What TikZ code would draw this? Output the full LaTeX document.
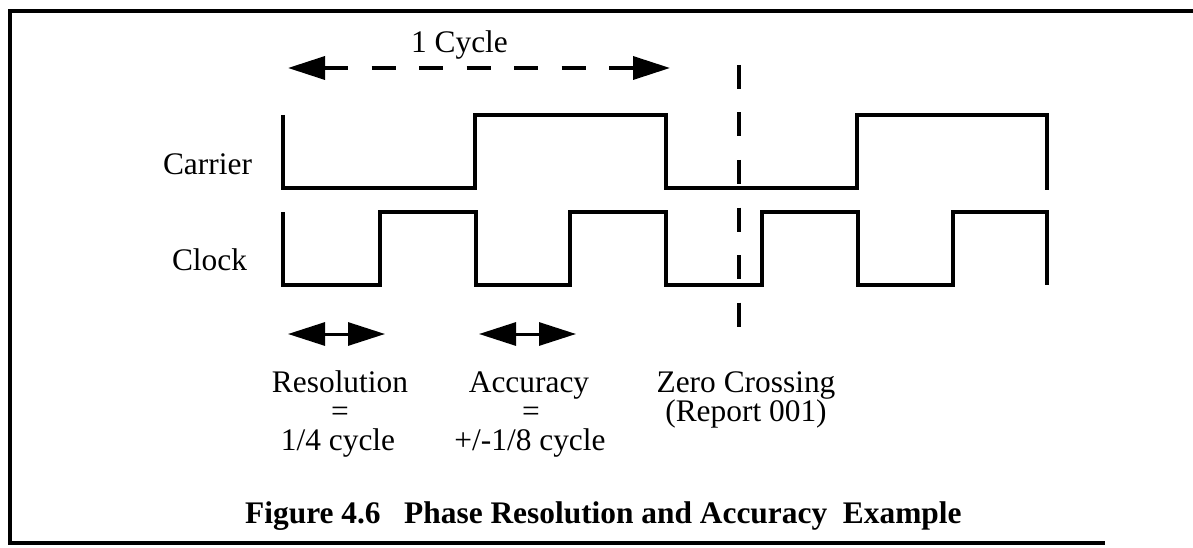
\documentclass[tikz,border=0pt]{standalone}
\usepackage{fontspec}
\setmainfont{Liberation Serif}
\usetikzlibrary{arrows.meta}
\begin{document}
\begin{tikzpicture}[x=1pt,y=-1pt,
  wave/.style={line width=3.5pt, line join=miter},
  frameline/.style={line width=3.5pt},
  lbl/.style={font=\fontsize{31.4}{30}\selectfont, inner sep=0pt, anchor=base},
  titlestyle/.style={font=\fontsize{31.4}{30}\selectfont\bfseries, inner sep=0pt, anchor=base west},
  spanarrow/.style={line width=3.5pt, dash pattern=on 24pt off 23.5pt,
    {Triangle[length=37pt,width=23pt]}-{Triangle[length=37pt,width=23pt]}},
  tickarrow/.style={line width=3pt,
    {Triangle[length=37pt,width=23pt]}-{Triangle[length=37pt,width=23pt]}},
  zeroline/.style={line width=3.5pt, dash pattern=on 24pt off 23.5pt}
]
\useasboundingbox (0,0) rectangle (1193,548);

% frame (open on the right)
\draw[frameline] (1193,11) -- (10,11) -- (10,543) -- (1105,543);

% signal names
\node[lbl] (carlbl) at (207.5,175) {Carrier};
\node[lbl] (clklbl) at (209.5,270) {Clock};

% carrier: half period of about 191
\draw[wave] (283,115) -- (283,188) -- (475,188) -- (475,115) -- (666,115)
  -- (666,188) -- (857,188) -- (857,115) -- (1047,115) -- (1047,190);

% clock: four times the carrier rate
\draw[wave] (283,212) -- (283,285) -- (380,285) -- (380,212) -- (476,212)
  -- (476,285) -- (570,285) -- (570,212) -- (666,212) -- (666,285)
  -- (762,285) -- (762,212) -- (858,212) -- (858,285) -- (953,285)
  -- (953,212) -- (1047,212) -- (1047,285);

% one carrier cycle
\coordinate (cycL) at (288,68);
\coordinate (cycR) at (670,68);
\draw[spanarrow] (cycL) -- (cycR);
\node[lbl] (cyclbl) at (459.5,53) {1 Cycle};

% zero crossing marker
\coordinate (zcTop) at (739,65);
\coordinate (zcBot) at (739,332);
\draw[zeroline] (zcTop) -- (zcBot);

% resolution and accuracy spans
\coordinate (resL) at (288,334);
\coordinate (resR) at (385,334);
\draw[tickarrow] (resL) -- (resR);
\coordinate (accL) at (479,334);
\coordinate (accR) at (576,334);
\draw[tickarrow] (accL) -- (accR);

% captions under the spans
\node[lbl] (res1) at (340,392) {Resolution};
\node[lbl] (res2) at (340,421) {=};
\node[lbl] (res3) at (338,450) {1/4 cycle};
\node[lbl] (acc1) at (529,392) {Accuracy};
\node[lbl] (acc2) at (531,421) {=};
\node[lbl] (acc3) at (530,450) {+/-1/8 cycle};
\node[lbl] (zc1) at (746,392) {Zero Crossing};
\node[lbl] (zc2) at (746,421) {(Report 001)};

% figure title
\node[titlestyle] (title) at (245,523)
  {Figure 4.6\hspace{0.75em}Phase Resolution and Accuracy\hspace{0.5em}Example};
\end{tikzpicture}
\end{document}
